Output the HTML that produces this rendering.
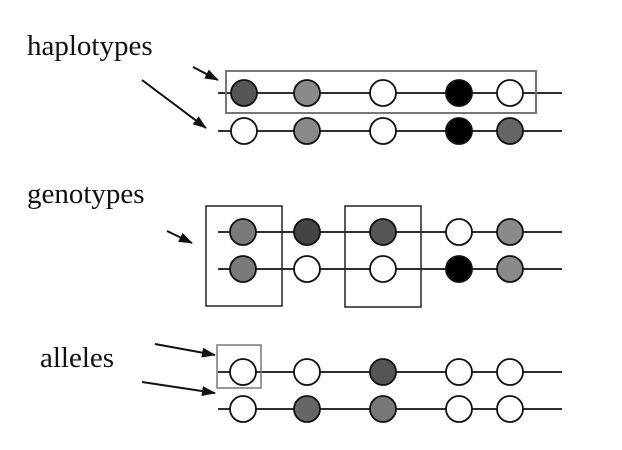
<!DOCTYPE html>
<html><head><meta charset="utf-8"><style>
html,body{margin:0;padding:0;background:#fff;}
svg{display:block;}
text{font-family:"Liberation Serif",serif;font-size:29px;fill:#111;}
</style></head><body>
<svg width="622" height="450" viewBox="0 0 622 450" xmlns="http://www.w3.org/2000/svg">
<defs>
<marker id="ah" markerWidth="10" markerHeight="8" refX="9" refY="4" orient="auto" markerUnits="userSpaceOnUse" viewBox="0 0 10 8">
<path d="M0,0 L10,4 L0,8 z" fill="#111"/>
</marker>
<marker id="ah2" markerWidth="14" markerHeight="10" refX="13" refY="5" orient="auto" markerUnits="userSpaceOnUse" viewBox="0 0 14 10">
<path d="M0,0 L14,5 L0,10 z" fill="#111"/>
</marker>
</defs>
<text x="27" y="55">haplotypes</text>
<text x="27" y="203">genotypes</text>
<text x="40" y="367">alleles</text>

<g stroke="#111" stroke-width="2" fill="none">
<line x1="193" y1="67" x2="218" y2="80" marker-end="url(#ah2)"/>
<line x1="142" y1="80" x2="206" y2="128" marker-end="url(#ah2)"/>
<line x1="167" y1="231" x2="192" y2="243" marker-end="url(#ah2)"/>
<line x1="155" y1="344" x2="215" y2="355" marker-end="url(#ah2)"/>
<line x1="142" y1="382" x2="215" y2="393" marker-end="url(#ah2)"/>
</g>

<g stroke="#111" stroke-width="1.8">
<line x1="218" y1="93" x2="562" y2="93"/>
<line x1="218" y1="131" x2="562" y2="131"/>
<line x1="218" y1="232" x2="562" y2="232"/>
<line x1="218" y1="269" x2="562" y2="269"/>
<line x1="218" y1="372" x2="562" y2="372"/>
<line x1="218" y1="409" x2="562" y2="409"/>
</g>

<g fill="none">
<rect x="226" y="71" width="310" height="42" stroke="#777" stroke-width="2"/>
<rect x="206" y="206" width="76" height="100" stroke="#222" stroke-width="1.5"/>
<rect x="345" y="206" width="76" height="101" stroke="#222" stroke-width="1.5"/>
<rect x="217" y="345" width="44" height="43" stroke="#777" stroke-width="1.5"/>
</g>

<g stroke="#111" stroke-width="1.8">
<!-- haplotypes -->
<circle cx="244" cy="93" r="13" fill="#555"/>
<circle cx="307" cy="93" r="13" fill="#8a8a8a"/>
<circle cx="383" cy="93" r="13" fill="#fff"/>
<circle cx="459" cy="93" r="13" fill="#000"/>
<circle cx="510" cy="93" r="13" fill="#fff"/>
<circle cx="244" cy="131" r="13" fill="#fff"/>
<circle cx="307" cy="131" r="13" fill="#8a8a8a"/>
<circle cx="383" cy="131" r="13" fill="#fff"/>
<circle cx="459" cy="131" r="13" fill="#000"/>
<circle cx="510" cy="131" r="13" fill="#666"/>
<!-- genotypes -->
<circle cx="243" cy="232" r="13" fill="#7a7a7a"/>
<circle cx="307" cy="232" r="13" fill="#444"/>
<circle cx="383" cy="232" r="13" fill="#555"/>
<circle cx="459" cy="232" r="13" fill="#fff"/>
<circle cx="510" cy="232" r="13" fill="#8a8a8a"/>
<circle cx="243" cy="269" r="13" fill="#7a7a7a"/>
<circle cx="307" cy="269" r="13" fill="#fff"/>
<circle cx="383" cy="269" r="13" fill="#fff"/>
<circle cx="459" cy="269" r="13" fill="#000"/>
<circle cx="510" cy="269" r="13" fill="#8a8a8a"/>
<!-- alleles -->
<circle cx="243" cy="372" r="13" fill="#fff"/>
<circle cx="307" cy="372" r="13" fill="#fff"/>
<circle cx="383" cy="372" r="13" fill="#555"/>
<circle cx="459" cy="372" r="13" fill="#fff"/>
<circle cx="510" cy="372" r="13" fill="#fff"/>
<circle cx="243" cy="409" r="13" fill="#fff"/>
<circle cx="307" cy="409" r="13" fill="#666"/>
<circle cx="383" cy="409" r="13" fill="#777"/>
<circle cx="459" cy="409" r="13" fill="#fff"/>
<circle cx="510" cy="409" r="13" fill="#fff"/>
</g>
</svg>
</body></html>
